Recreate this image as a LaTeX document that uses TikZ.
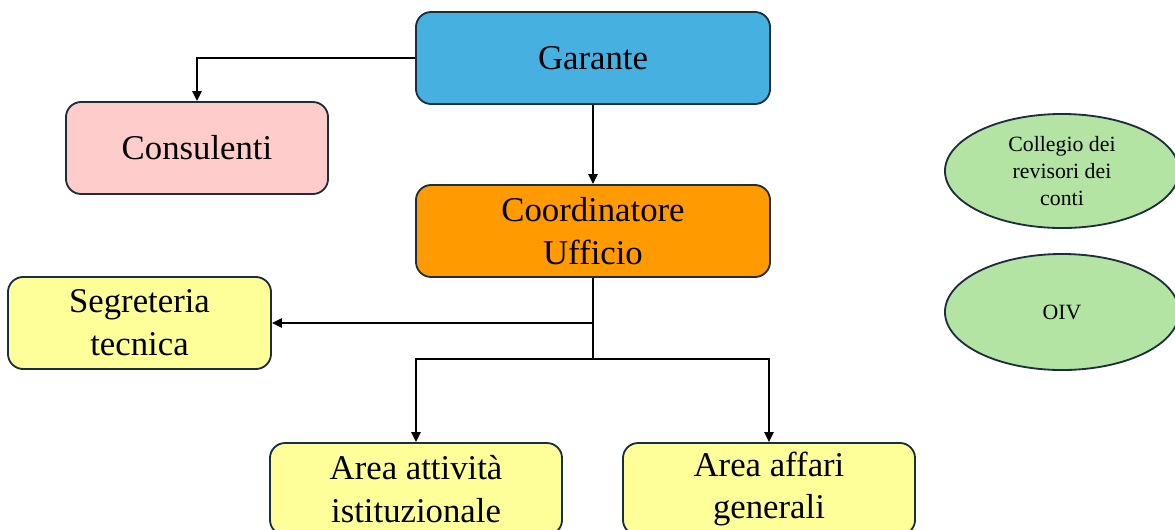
\documentclass[tikz,border=0pt]{standalone}
\usepackage{fontspec}
\setmainfont{Liberation Serif}
\usetikzlibrary{arrows.meta}
\usetikzlibrary{shapes.geometric}

\definecolor{boxline}{HTML}{1C2E3C}
\definecolor{garanteblue}{HTML}{46B0E0}
\definecolor{consupink}{HTML}{FFCCCC}
\definecolor{coordorange}{HTML}{FF9A00}
\definecolor{areayellow}{HTML}{FFFF99}
\definecolor{ovalgreen}{HTML}{B4E4A4}

\tikzset{
  box/.style={draw=boxline, line width=1.3pt, rounded corners=0.38cm,
    minimum height=2.3cm, align=center, inner sep=0pt,
    font=\fontsize{24.7}{30.5}\selectfont},
  oval/.style={ellipse, draw=boxline, line width=1.3pt, fill=ovalgreen,
    minimum width=5.85cm, align=center, inner sep=0pt,
    font=\fontsize{15.5}{19}\selectfont},
  link/.style={line width=1.2pt, -{Triangle[length=7pt,width=6.5pt]}}
}

\begin{document}
\begin{tikzpicture}[x=0.025cm,y=-0.025cm]
\useasboundingbox (0,0) rectangle (1175,529);

\node[box, fill=garanteblue, minimum width=8.85cm] (garante) at (593,58) {Garante};
\node[box, fill=consupink, minimum width=6.55cm] (consulenti) at (197,148) {Consulenti};
\node[box, fill=coordorange, minimum width=8.85cm] (coord) at (593,231) {Coordinatore\\Ufficio};
\node[box, fill=areayellow, minimum width=6.575cm] (segreteria) at (139.5,323) {Segreteria\\tecnica};
\node[box, fill=areayellow, minimum width=7.3cm] (areaist) at (416,489) {Area attività\\istituzionale};
\node[box, fill=areayellow, minimum width=7.3cm] (areaaff) at (769,489) {Area affari\\generali};

\node[oval, minimum height=2.85cm] (collegio) at (1062,171) {Collegio dei\\revisori dei\\conti};
\node[oval, minimum height=2.9cm] (oiv) at (1062,312) {OIV};

\coordinate (fork) at (593,359);

\draw[link] (garante.west) -| (consulenti.north);
\draw[link] (garante) -- (coord);
\draw[link] (coord.south) |- (segreteria.east);
\draw[line width=1.2pt] (coord.south) -- (fork);
\draw[link] (fork) -| (areaist.north);
\draw[link] (fork) -| (areaaff.north);
\end{tikzpicture}
\end{document}
